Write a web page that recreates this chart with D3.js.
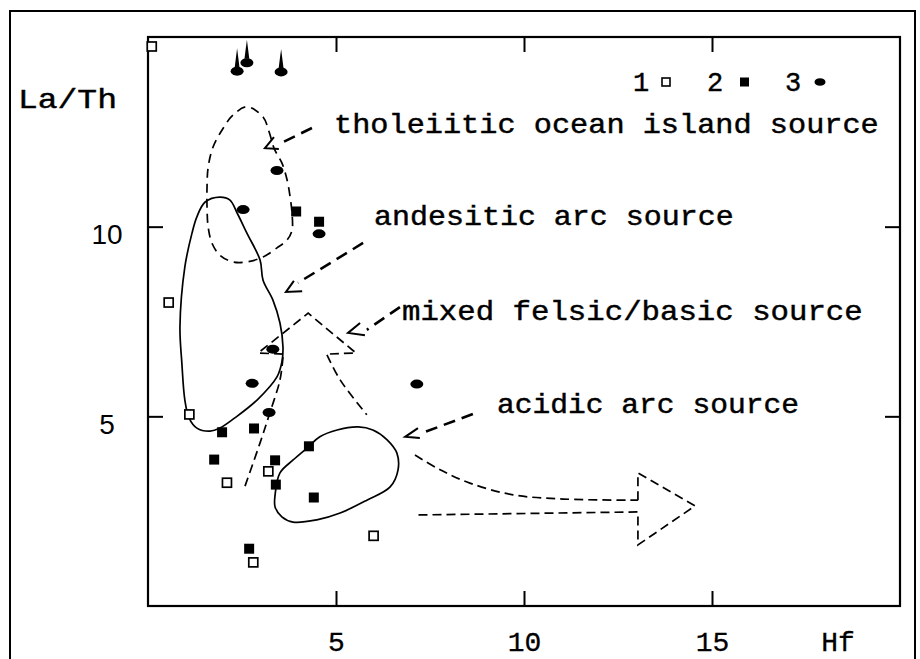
<!DOCTYPE html>
<html><head><meta charset="utf-8">
<script src="https://cdn.jsdelivr.net/npm/d3@7"></script>
<style>
body{margin:0;background:#fff;}
svg{display:block;}
text{font-family:"Liberation Mono","Courier New",monospace;fill:#000;}
</style></head><body>
<svg id="chart" width="920" height="659"></svg>
<script>
// ---------- data ----------
const xTicks = [5, 10, 15];
const yTicks = [5, 10];
const xLabel = "Hf";
const yLabel = "La/Th";

// 1: open squares
const openSqX = [0.1, 0.55, 1.1, 2.1, 3.2, 2.8, 6.0];
const openSqY = [14.75, 8.0, 5.05, 3.25, 3.55, 1.15, 1.85];
// 2: filled squares
const filledSqX = [3.94, 4.55, 1.97, 2.82, 1.76, 3.38, 3.40, 4.28, 4.41, 2.69];
const filledSqY = [10.4, 10.13, 4.58, 4.68, 3.86, 3.84, 3.2, 4.21, 2.86, 1.51];
// 3: filled ellipses (first three are off-scale, marked with arrows)
const dotX = [2.37, 2.63, 3.54, 3.43, 2.53, 4.55, 3.32, 2.77, 7.15, 3.22];
const dotY = [14.1, 14.32, 14.08, 11.48, 10.45, 9.81, 6.77, 5.87, 5.85, 5.1];
const dotOffscale = [true, true, true, false, false, false, false, false, false, false];

const legendLabels = ["1", "2", "3"];
const fieldLabels = ["tholeiitic ocean island source", "andesitic arc source",
                     "mixed felsic/basic source", "acidic arc source"];

// field outlines (Hf, La/Th)
const tholeiiticField = [[2.63,13.16],[3.06,12.89],[3.22,12.5],[3.36,12.05],[3.56,11.68],[3.70,11.23],
  [3.78,10.78],[3.83,10.36],[3.83,9.91],[3.70,9.65],[3.43,9.44],[3.06,9.20],[2.63,9.07],[2.26,9.07],
  [1.91,9.25],[1.70,9.57],[1.60,9.99],[1.57,10.52],[1.57,11.05],[1.60,11.57],[1.73,12.10],[1.97,12.55],[2.26,12.94]];
const andesiticField = [[3.06,8.59],[3.32,8.07],[3.51,7.46],[3.59,6.83],[3.56,6.43],[3.43,6.04],[2.90,5.43],
  [2.31,4.96],[1.91,4.69],[1.65,4.61],[1.30,4.69],[1.09,4.96],[0.98,5.43],[0.90,6.41],[0.85,7.36],[0.98,8.94],
  [1.17,9.83],[1.30,10.26],[1.52,10.65],[1.91,10.78],[2.18,10.70],[2.37,10.36],[2.63,9.83],[2.98,9.12]];
const acidicField = [[3.51,3.51],[3.86,3.85],[4.26,4.19],[4.57,4.46],[5.03,4.64],[5.59,4.72],[5.98,4.64],
  [6.36,4.38],[6.62,4.03],[6.65,3.59],[6.44,3.14],[5.82,2.79],[5.11,2.45],[4.49,2.27],[3.86,2.21],[3.56,2.35],
  [3.38,2.61],[3.38,2.93]];
// mixed felsic/basic arrow
const mixedShaftLeft = [[2.58,3.16],[2.98,4.30],[3.24,5.09],[3.51,5.96],[3.59,6.56]];
const mixedHead = [[3.59,6.64],[2.93,6.67],[4.26,7.72],[5.53,6.67],[4.76,6.64]];
const mixedShaftRight = [[4.76,6.62],[5.11,5.96],[5.82,5.04]];
const mixedCurve = [[7.10,3.98],[7.77,3.59],[8.56,3.24],[9.71,2.93],[11.04,2.82],[13.03,2.79]];
const mixedRightHead = [[13.03,2.79],[13.03,3.51],[14.55,2.64],[13.03,1.61],[13.03,2.48],[7.18,2.40]];
// label pointers: [start, end] and head [wing, tip, wing]
const pointerLines = [
  [[4.36,12.60],[3.59,12.23]],
  [[5.72,9.57],[3.99,8.52]],
  [[6.70,7.88],[5.82,7.28]],
  [[8.64,5.06],[7.37,4.59]]];
const pointerHeads = [
  [[3.35,12.36],[3.11,12.07],[3.48,12.05]],
  [[3.88,8.57],[3.67,8.28],[4.10,8.30]],
  [[5.64,7.46],[5.32,7.20],[5.77,7.14]],
  [[7.18,4.69],[6.84,4.46],[7.23,4.43]]];

// ---------- drawing ----------
const svg = d3.select("#chart");
const x = d3.scaleLinear().domain([0, 20]).range([148, 900]);
const y = d3.scaleLinear().domain([0, 15]).range([606, 37]);

// outer frame
svg.append("path").attr("d", "M10,659V11H915V659")
  .attr("fill", "none").attr("stroke", "#000").attr("stroke-width", 2);

// plot box
svg.append("rect").attr("x", x(0)).attr("y", y(15))
  .attr("width", x(20) - x(0)).attr("height", y(0) - y(15))
  .attr("fill", "none").attr("stroke", "#000").attr("stroke-width", 2.2);

function styleAxis(g) {
  g.select(".domain").remove();
  g.selectAll(".tick line").attr("stroke", "#000").attr("stroke-width", 2);
  g.selectAll("text").attr("fill", "#000").attr("font-family", null);
}
const gB = svg.append("g").attr("transform", `translate(0,${y(0)})`)
  .call(d3.axisBottom(x).tickValues(xTicks).tickSizeInner(-15).tickSizeOuter(0).tickPadding(25))
  .call(styleAxis);
gB.selectAll("text").attr("font-size", 28).attr("stroke", "#000").attr("stroke-width", 0.3)
  .style("font-family", '"Liberation Mono","Courier New",monospace');

svg.append("g").attr("transform", `translate(0,${y(15)})`)
  .call(d3.axisTop(x).tickValues(xTicks).tickSizeInner(-15).tickSizeOuter(0).tickFormat(""))
  .call(styleAxis);

const gL = svg.append("g").attr("transform", `translate(${x(0)},0)`)
  .call(d3.axisLeft(y).tickValues(yTicks).tickSizeInner(-15).tickSizeOuter(0).tickPadding(41))
  .call(styleAxis);
gL.selectAll("text").attr("font-size", 28).attr("text-anchor", "middle").attr("dy", "0.6em")
  .style("font-family", '"Liberation Sans",Arial,sans-serif');

svg.append("g").attr("transform", `translate(${x(20)},0)`)
  .call(d3.axisRight(y).tickValues(yTicks).tickSizeInner(-15).tickSizeOuter(0).tickFormat(""))
  .call(styleAxis);

// stretched typewriter-like text: left x, baseline y, target width
function wideText(t, left, base, width, fs) {
  const el = svg.append("text").attr("font-size", fs)
    .attr("stroke", "#000").attr("stroke-width", 0.45).text(t);
  const w = el.node().getComputedTextLength();
  el.attr("transform", `translate(${left},${base}) scale(${width / w},1)`);
  return el;
}

// axis titles
svg.append("text").attr("x", 838).attr("y", 651).attr("text-anchor", "middle")
  .attr("font-size", 28).attr("stroke", "#000").attr("stroke-width", 0.3).text(xLabel);
wideText(yLabel, 18, 108, 99, 27);

// fields
const closed = d3.line().x(d => x(d[0])).y(d => y(d[1])).curve(d3.curveCatmullRomClosed.alpha(0.5));
const open = d3.line().x(d => x(d[0])).y(d => y(d[1])).curve(d3.curveCatmullRom.alpha(0.5));
const lin = d3.line().x(d => x(d[0])).y(d => y(d[1]));

svg.append("path").attr("d", closed(tholeiiticField)).attr("fill", "none")
  .attr("stroke", "#000").attr("stroke-width", 1.7).attr("stroke-dasharray", "9,6");
svg.append("path").attr("d", closed(andesiticField)).attr("fill", "none")
  .attr("stroke", "#000").attr("stroke-width", 1.7);
svg.append("path").attr("d", closed(acidicField)).attr("fill", "none")
  .attr("stroke", "#000").attr("stroke-width", 1.7);

const dashed = (d) => svg.append("path").attr("d", d).attr("fill", "none")
  .attr("stroke", "#000").attr("stroke-width", 1.7).attr("stroke-dasharray", "9,5");
dashed(open(mixedShaftLeft));
dashed(lin(mixedHead));
dashed(open(mixedShaftRight));
dashed(open(mixedCurve));
dashed(lin(mixedRightHead));

// pointers
pointerLines.forEach(p => {
  svg.append("path").attr("d", lin(p)).attr("fill", "none").attr("stroke", "#000")
    .attr("stroke-width", 2.6).attr("stroke-dasharray", "12,7");
});
pointerHeads.forEach(p => {
  svg.append("path").attr("d", lin(p)).attr("fill", "none").attr("stroke", "#000")
    .attr("stroke-width", 2);
});

// field labels: [left, baseline, total width]
const labelPos = [[334, 133, 545], [374, 225, 360], [402, 320, 461], [497, 413, 302]];
fieldLabels.forEach((t, i) => wideText(t, labelPos[i][0], labelPos[i][1], labelPos[i][2], 27));

// points
const openPts = openSqX.map((v, i) => [v, openSqY[i]]);
const fillPts = filledSqX.map((v, i) => [v, filledSqY[i]]);
const dotPts = dotX.map((v, i) => [v, dotY[i], dotOffscale[i]]);

svg.append("g").selectAll("rect").data(fillPts).join("rect")
  .attr("x", d => x(d[0]) - 5).attr("y", d => y(d[1]) - 5)
  .attr("width", 10).attr("height", 10).attr("fill", "#000");
svg.append("g").selectAll("rect").data(openPts).join("rect")
  .attr("x", d => x(d[0]) - 4.5).attr("y", d => y(d[1]) - 4.5)
  .attr("width", 9).attr("height", 9).attr("fill", "#fff")
  .attr("stroke", "#000").attr("stroke-width", 1.7);
svg.append("g").selectAll("ellipse").data(dotPts).join("ellipse")
  .attr("cx", d => x(d[0])).attr("cy", d => y(d[1]))
  .attr("rx", 6.5).attr("ry", 4.5).attr("fill", "#000");
svg.append("g").selectAll("path").data(dotPts.filter(d => d[2])).join("path")
  .attr("d", d => {
    const cx = x(d[0]), cy = y(d[1]);
    return `M${cx - 2.4},${cy - 4}L${cx},${cy - 23}L${cx + 2.4},${cy - 4}Z`;
  }).attr("fill", "#000");

// legend
const legX = [641, 715, 793];
legendLabels.forEach((t, i) => {
  svg.append("text").attr("x", legX[i]).attr("y", 91).attr("text-anchor", "middle")
    .attr("font-size", 27).attr("stroke", "#000").attr("stroke-width", 0.4).text(t);
});
svg.append("rect").attr("x", 662).attr("y", 78).attr("width", 8).attr("height", 8)
  .attr("fill", "#fff").attr("stroke", "#000").attr("stroke-width", 1.6);
svg.append("rect").attr("x", 740).attr("y", 77.5).attr("width", 9).attr("height", 9).attr("fill", "#000");
svg.append("ellipse").attr("cx", 820).attr("cy", 82).attr("rx", 5.5).attr("ry", 3.8).attr("fill", "#000");
</script>
</body></html>
